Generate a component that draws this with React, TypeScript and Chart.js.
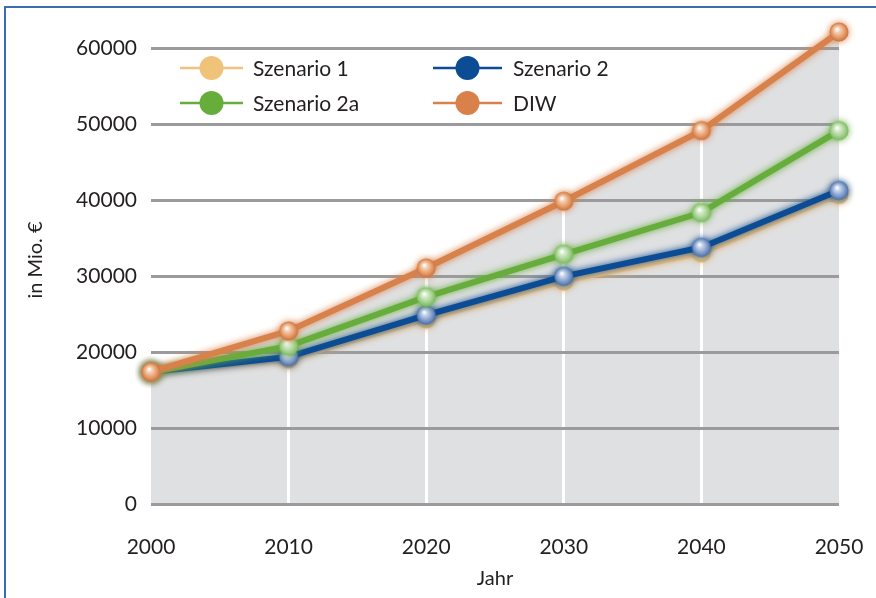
import React, { useEffect, useRef } from "react";
import { Chart, registerables } from "chart.js";

Chart.register(...registerables);

const years = ["2000", "2010", "2020", "2030", "2040", "2050"];
const seriesNames = ["Szenario 1", "Szenario 2", "Szenario 2a", "DIW"];
const szenario1 = [17400, 19100, 24400, 29400, 33100, 40800];
const szenario2 = [17400, 19400, 24900, 30000, 33800, 41300];
const szenario2a = [17400, 20800, 27300, 32900, 38400, 49200];
const diw = [17400, 22800, 31100, 39900, 49200, 62200];
const yTicks = [0, 10000, 20000, 30000, 40000, 50000, 60000];

const FONT = "Lato";
const TEXT = "#231f20";

function sphere(base: string, dark: string, light: string) {
  const c = document.createElement("canvas");
  c.width = 22;
  c.height = 22;
  const g = c.getContext("2d")!;
  const grad = g.createRadialGradient(9, 8, 0.5, 11, 11, 10);
  grad.addColorStop(0, "#ffffff");
  grad.addColorStop(0.22, light);
  grad.addColorStop(0.65, base);
  grad.addColorStop(1, dark);
  g.fillStyle = grad;
  g.beginPath();
  g.arc(11, 11, 9.5, 0, Math.PI * 2);
  g.fill();
  return c;
}

const legendItems = [
  { line: "#f0c27f", dot: "#efc47a", x: 180, y: 68 },
  { line: "#0b4c94", dot: "#0b4c94", x: 433, y: 68 },
  { line: "#66ad3c", dot: "#66ad3c", x: 180, y: 103 },
  { line: "#d8814a", dot: "#d8814a", x: 433, y: 103 },
];

const legendPlugin = {
  id: "customLegend",
  afterDraw(chart: any) {
    const ctx = chart.ctx;
    ctx.save();
    legendItems.forEach((it, i) => {
      const w = i % 2 === 0 ? 63 : 69;
      ctx.strokeStyle = it.line;
      ctx.lineWidth = 2.5;
      ctx.beginPath();
      ctx.moveTo(it.x, it.y);
      ctx.lineTo(it.x + w, it.y);
      ctx.stroke();
      ctx.fillStyle = it.dot;
      ctx.beginPath();
      ctx.arc(it.x + w / 2, it.y, 12, 0, Math.PI * 2);
      ctx.fill();
      ctx.fillStyle = TEXT;
      ctx.font = `21px ${FONT}`;
      ctx.textBaseline = "middle";
      ctx.textAlign = "left";
      ctx.fillText(seriesNames[i], it.x + (i % 2 === 0 ? 73 : 80), it.y + 1);
    });
    ctx.restore();
  },
};

const glowPlugin = {
  id: "glow",
  beforeDatasetDraw(chart: any, args: any) {
    const ds = chart.data.datasets[args.index];
    chart.ctx.save();
    chart.ctx.shadowColor = ds.borderColor;
    chart.ctx.shadowBlur = 7;
  },
  afterDatasetDraw(chart: any) {
    chart.ctx.restore();
  },
};

export default function App() {
  const ref = useRef<HTMLCanvasElement | null>(null);

  useEffect(() => {
    if (!ref.current) return;
    const pS1 = sphere("#f0cc88", "#e0b062", "#f8e6c4");
    const pS2 = sphere("#7f9bcb", "#46699f", "#c9d6ec");
    const pS2a = sphere("#a4d28d", "#78b45e", "#d9edd0");
    const pDIW = sphere("#e59a68", "#c86d36", "#f6d2b8");

    const chart = new Chart(ref.current, {
      type: "line",
      data: {
        labels: years,
        datasets: [
          {
            label: seriesNames[3],
            data: diw,
            borderColor: "#d8814a",
            borderWidth: 6,
            pointStyle: pDIW as any,
            pointRadius: 10,
            fill: "origin",
            backgroundColor: "#dfe0e2",
            order: 0,
          },
          {
            label: seriesNames[2],
            data: szenario2a,
            borderColor: "#66ad3c",
            borderWidth: 6,
            pointStyle: pS2a as any,
            pointRadius: 10,
            fill: false,
            order: 1,
          },
          {
            label: seriesNames[1],
            data: szenario2,
            borderColor: "#0b4c94",
            borderWidth: 6,
            pointStyle: pS2 as any,
            pointRadius: 10,
            fill: false,
            order: 2,
          },
          {
            label: seriesNames[0],
            data: szenario1,
            borderColor: "#f0c27f",
            borderWidth: 6,
            pointStyle: pS1 as any,
            pointRadius: 10,
            fill: false,
            order: 3,
          },
        ],
      },
      options: {
        animation: false,
        responsive: false,
        layout: { padding: { left: 0, right: 37, top: 5, bottom: 0 } },
        plugins: {
          legend: { display: false },
          tooltip: { enabled: false },
          filler: { drawTime: "beforeDraw" } as any,
        },
        scales: {
          x: {
            offset: false,
            grid: {
              z: -2,
              lineWidth: 3,
              drawTicks: false,
              color: (c: any) =>
                c.index === 0 || c.index === years.length - 1 ? "rgba(0,0,0,0)" : "#ffffff",
            },
            border: { display: false },
            ticks: {
              font: { family: FONT, size: 21 },
              color: TEXT,
              padding: 31,
              maxRotation: 0,
            },
            title: {
              display: true,
              text: "Jahr",
              font: { family: FONT, size: 20 },
              color: TEXT,
              padding: { top: 0, bottom: 7 },
            },
            afterFit: (s: any) => {
              s.height = 94;
              s.paddingLeft = 0;
              s.paddingRight = 0;
            },
          },
          y: {
            min: 0,
            max: 64300,
            grid: {
              z: -1,
              lineWidth: 3,
              color: "#9b9b9d",
              drawTicks: false,
            },
            border: { display: false },
            ticks: {
              font: { family: FONT, size: 21 },
              color: TEXT,
              padding: 14,
              autoSkip: false,
              callback: (v: any) => String(v),
            },
            afterBuildTicks: (s: any) => {
              s.ticks = yTicks.map((v) => ({ value: v }));
            },
            title: {
              display: true,
              text: "in Mio. €",
              font: { family: FONT, size: 20 },
              color: TEXT,
              padding: { top: 24, bottom: 0 },
            },
            afterFit: (s: any) => {
              s.width = 151;
              s.paddingTop = 0;
              s.paddingBottom = 0;
            },
          } as any,
        },
      },
      plugins: [glowPlugin, legendPlugin],
    });
    return () => chart.destroy();
  }, []);

  return (
    <div
      style={{
        position: "absolute",
        left: 0,
        top: 0,
        width: 876,
        height: 598,
        overflow: "hidden",
        background: "#ffffff",
      }}
    >
      <canvas ref={ref} width={876} height={598} style={{ display: "block" }} />
      <div
        style={{
          position: "absolute",
          left: 4,
          top: 6,
          width: 1000,
          height: 1000,
          borderLeft: "2px solid #3b6db3",
          borderTop: "2px solid #3b6db3",
          pointerEvents: "none",
        }}
      />
    </div>
  );
}
